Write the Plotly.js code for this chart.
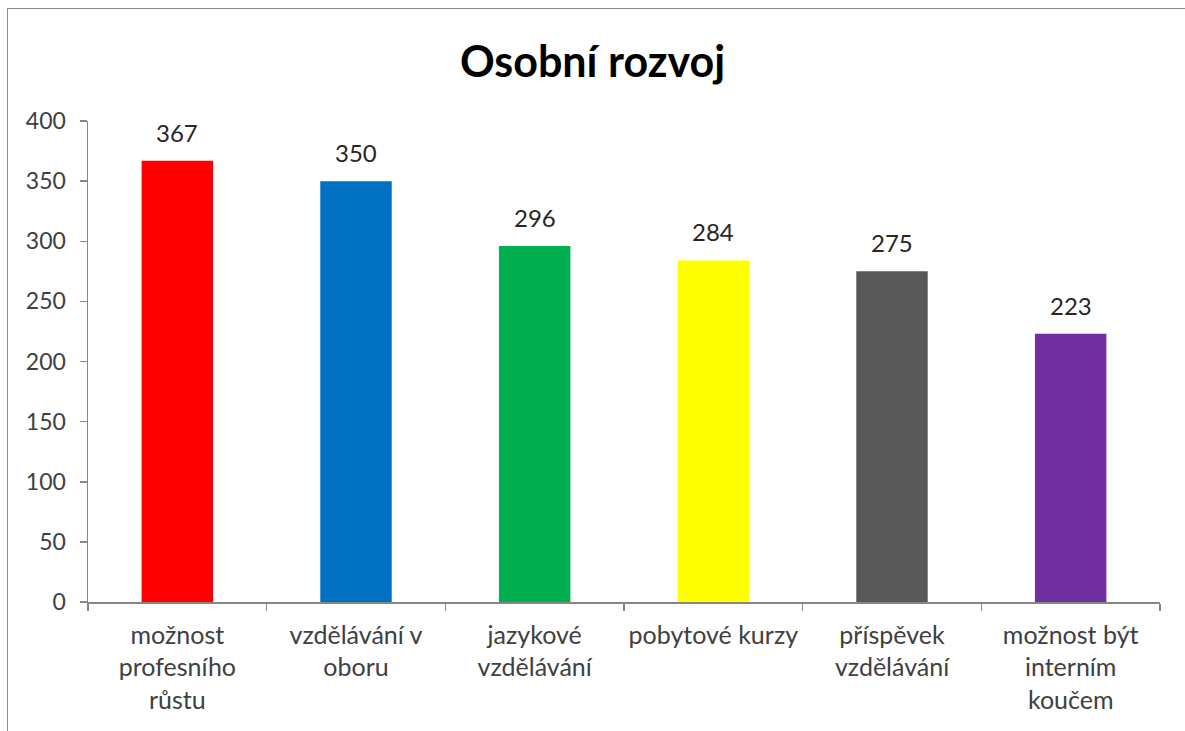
<!DOCTYPE html>
<html>
<head>
<meta charset="utf-8">
<script src="https://cdn.plot.ly/plotly-3.0.1.min.js"></script>
<style>
  html, body { margin: 0; padding: 0; background: #fff; }
  #chart { width: 1185px; height: 731px; position: absolute; left: 0; top: 0; }
  #frame { position: absolute; left: 7px; top: 8px; width: 1178px; height: 723px;
           border-left: 1.5px solid #8a8a8a; border-top: 1.5px solid #8a8a8a;
           pointer-events: none; box-sizing: border-box; }
</style>
</head>
<body>
<div id="chart"></div>
<div id="frame"></div>
<script>
const categories = [
  "možnost<br>profesního<br>růstu",
  "vzdělávání v<br>oboru",
  "jazykové<br>vzdělávání",
  "pobytové kurzy",
  "příspěvek<br>vzdělávání",
  "možnost být<br>interním<br>koučem"
];
const values = [367, 350, 296, 284, 275, 223];
const barColors = ["#FF0000", "#0070C0", "#00B050", "#FFFF00", "#595959", "#7030A0"];
const yTicks = [0, 50, 100, 150, 200, 250, 300, 350, 400];
const chartTitle = "Osobní rozvoj";

const FONT = "Lato, 'Open Sans', sans-serif";

const trace = {
  type: "bar",
  x: categories,
  y: values,
  marker: { color: barColors, line: { width: 0 } },
  width: 0.4,
  hoverinfo: "x+y"
};

const annotations = categories.map((c, i) => ({
  x: c, y: values[i], xref: "x", yref: "y",
  text: String(values[i]),
  showarrow: false, yanchor: "bottom", yshift: 12,
  font: { family: FONT, size: 24, color: "#262626" }
}));

const layout = {
  width: 1185, height: 731,
  margin: { l: 88, r: 25, t: 121, b: 129 },
  paper_bgcolor: "#ffffff",
  plot_bgcolor: "#ffffff",
  showlegend: false,
  title: {
    text: "<b>" + chartTitle + "</b>",
    font: { family: FONT, size: 43, color: "#000000" },
    x: 0.5, xanchor: "center",
    y: 0.915, yanchor: "middle"
  },
  xaxis: {
    type: "category",
    showgrid: false, zeroline: false,
    showline: true, linecolor: "#868686", linewidth: 1.5,
    ticks: "outside", tickson: "boundaries", ticklen: 7, tickcolor: "#868686", tickwidth: 1.5,
    tickfont: { family: FONT, size: 25, color: "#404040" },
    tickangle: 0,
    ticklabelstandoff: 10
  },
  yaxis: {
    range: [0, 400],
    tickvals: yTicks,
    showgrid: false, zeroline: false,
    showline: true, linecolor: "#868686", linewidth: 1.5,
    ticks: "outside", ticklen: 7, tickcolor: "#868686", tickwidth: 1.5,
    tickfont: { family: FONT, size: 23, color: "#404040" },
    ticklabelstandoff: 9
  },
  annotations: annotations
};

Plotly.newPlot("chart", [trace], layout, { displayModeBar: false, staticPlot: true });
</script>
</body>
</html>
